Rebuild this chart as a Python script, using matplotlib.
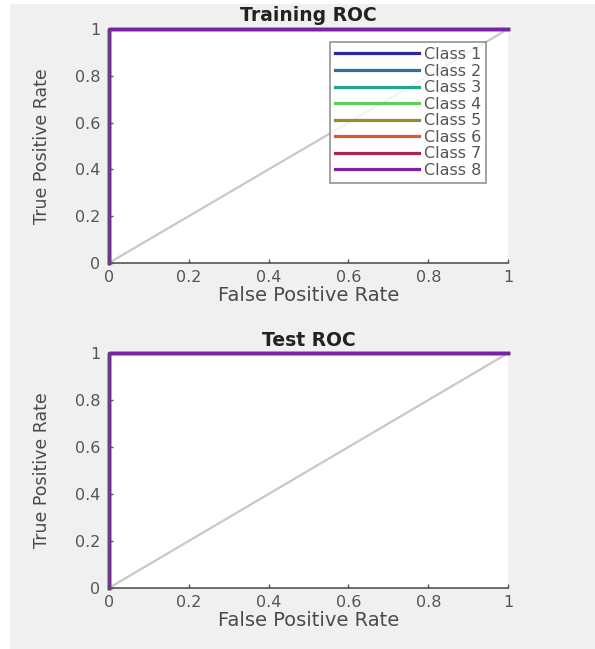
import matplotlib
matplotlib.use("Agg")
import matplotlib.pyplot as plt
from matplotlib.patches import Rectangle

# ROC points per class (all classes perfectly separated)
class_names = ["Class 1", "Class 2", "Class 3", "Class 4",
               "Class 5", "Class 6", "Class 7", "Class 8"]
class_colors = ["#2a2a9c", "#2c6f8f", "#22a886", "#5cd05a",
                "#9a8a2e", "#d95b2c", "#b3234f", "#7a22a6"]
train_fpr = [0, 0, 1]
train_tpr = [0, 1, 1]
test_fpr = [0, 0, 1]
test_tpr = [0, 1, 1]
diag = [0, 1]
ticks = [0, 0.2, 0.4, 0.6, 0.8, 1]
tick_labels = ["0", "0.2", "0.4", "0.6", "0.8", "1"]

plt.rcParams["font.family"] = ["DejaVu Sans"]

fig = plt.figure(figsize=(5.95, 6.49), dpi=100, facecolor="white")
fig.patches.append(Rectangle((10 / 595, 0), 1, 1 - 4 / 649, transform=fig.transFigure,
                             facecolor="#f0f0f0", edgecolor="none", zorder=-10))

ax1 = fig.add_axes([0.183, 0.5948, 0.671, 0.3605])
ax2 = fig.add_axes([0.183, 0.094, 0.671, 0.362])


def draw_roc(ax, fpr, tpr, title, show_legend, title_pad):
    ax.plot(diag, diag, color="#c8c8c8", lw=1.6, zorder=1)
    for name, c in zip(class_names, class_colors):
        ax.plot(fpr, tpr, color=c, lw=2.3, label=name, zorder=2, clip_on=False)
    ax.set_xlim(0, 1)
    ax.set_ylim(0, 1)
    ax.set_facecolor("white")
    ax.spines["top"].set_visible(False)
    ax.spines["right"].set_visible(False)
    for s in ("left", "bottom"):
        ax.spines[s].set_color("#555555")
        ax.spines[s].set_linewidth(1.2)
    ax.set_xticks(ticks)
    ax.set_xticklabels(tick_labels)
    ax.set_yticks(ticks)
    ax.set_yticklabels(tick_labels)
    ax.tick_params(direction="in", length=3, width=1, colors="#555555",
                   labelcolor="#555555", labelsize=11.5)
    ax.tick_params(axis="x", pad=5)
    ax.tick_params(axis="y", pad=6)
    ax.set_title(title, fontsize=13.5, fontweight="bold", color="#222222", pad=title_pad)
    ax.set_xlabel("False Positive Rate", fontsize=14, color="#4a4a4a", labelpad=1)
    ax.set_ylabel("True Positive Rate", fontsize=12.5, color="#4a4a4a", labelpad=17)
    if show_legend:
        leg = ax.legend(loc="upper right", bbox_to_anchor=(0.945, 0.944),
                        fontsize=11.5, frameon=True, fancybox=False,
                        handlelength=5.3, handletextpad=0.3, labelspacing=0.1,
                        borderpad=0.3, borderaxespad=0)
        leg.get_frame().set_edgecolor("#777777")
        leg.get_frame().set_linewidth(1.2)
        for t in leg.get_texts():
            t.set_color("#555555")


draw_roc(ax1, train_fpr, train_tpr, "Training ROC", True, 6)
draw_roc(ax2, test_fpr, test_tpr, "Test ROC", False, 5)

fig.savefig("out.png", dpi=100)
